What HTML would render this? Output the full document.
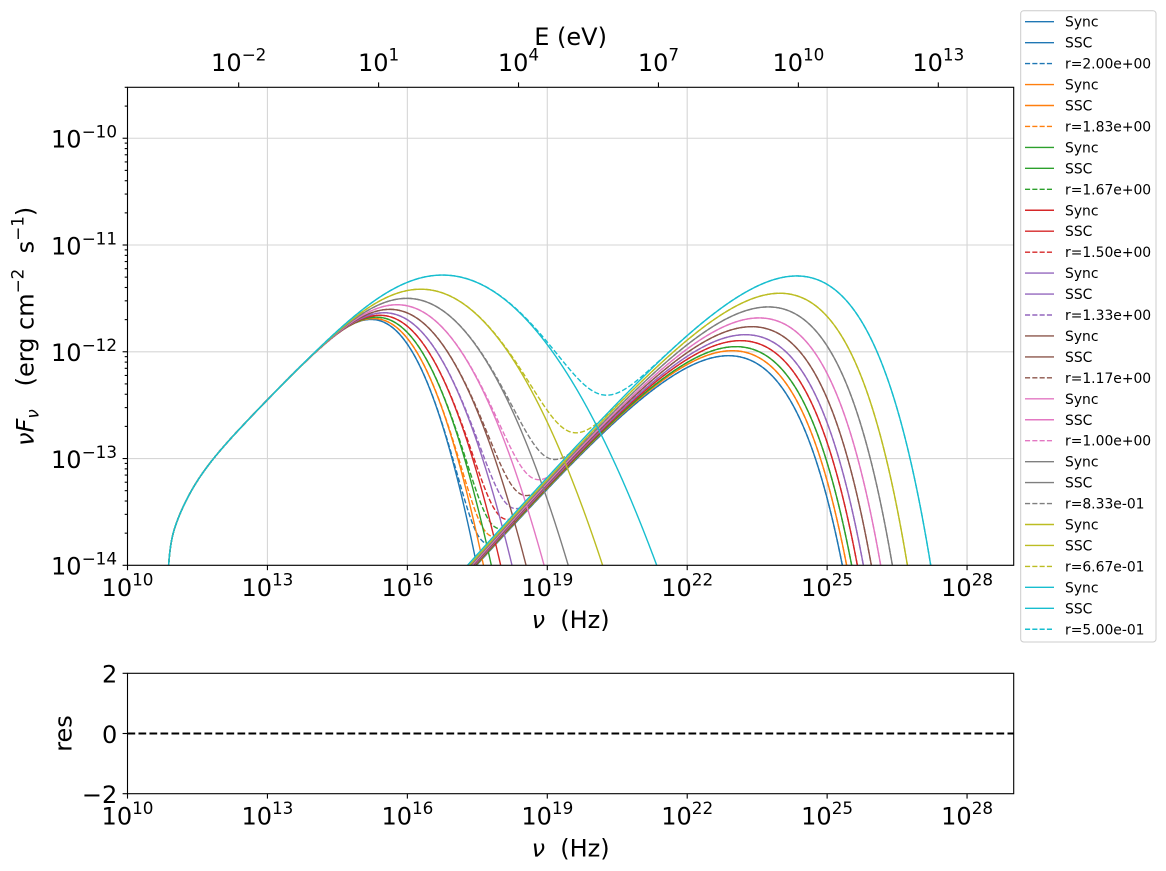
<!DOCTYPE html>
<html>
<head>
<meta charset="utf-8">
<style>
html,body{margin:0;padding:0;background:#fff;}
svg{display:block;}
text{font-family:"DejaVu Sans","Liberation Sans",sans-serif;fill:#000;}
</style>
</head>
<body>
<svg id="fig" width="1166" height="871" viewBox="0 0 1166 871" xmlns="http://www.w3.org/2000/svg">
<defs>
<clipPath id="cp"><rect x="127.5" y="87.3" width="886.2" height="478"/></clipPath>
</defs>
<rect x="0" y="0" width="1166" height="871" fill="#fff"/>
<g id="grid" stroke="#d6d6d6" stroke-width="1.1" fill="none"></g>
<g id="curves" clip-path="url(#cp)" fill="none" stroke-width="1.4" stroke-linejoin="round"></g>
<rect x="127.5" y="87.3" width="886.2" height="478" fill="none" stroke="#000" stroke-width="1.1"/>
<rect x="127.5" y="673.3" width="886.2" height="120.4" fill="none" stroke="#000" stroke-width="1.1"/>
<line x1="127.5" y1="733.5" x2="1013.7" y2="733.5" stroke="#000" stroke-width="2.08" stroke-dasharray="7.7 3.3"/>
<g id="ticks" stroke="#000" stroke-width="1.1" fill="none"></g>

<!-- bottom x tick labels (main) -->
<g font-size="24" text-anchor="middle">
<text x="127.5" y="596">10<tspan font-size="16.8" dy="-10.5">10</tspan></text>
<text x="267.4" y="596">10<tspan font-size="16.8" dy="-10.5">13</tspan></text>
<text x="407.4" y="596">10<tspan font-size="16.8" dy="-10.5">16</tspan></text>
<text x="547.3" y="596">10<tspan font-size="16.8" dy="-10.5">19</tspan></text>
<text x="687.2" y="596">10<tspan font-size="16.8" dy="-10.5">22</tspan></text>
<text x="827.1" y="596">10<tspan font-size="16.8" dy="-10.5">25</tspan></text>
<text x="967.1" y="596">10<tspan font-size="16.8" dy="-10.5">28</tspan></text>
</g>
<!-- top tick labels -->
<g font-size="24" text-anchor="middle">
<text x="238.7" y="71">10<tspan font-size="16.8" dy="-10.5">−2</tspan></text>
<text x="378.6" y="71">10<tspan font-size="16.8" dy="-10.5">1</tspan></text>
<text x="518.5" y="71">10<tspan font-size="16.8" dy="-10.5">4</tspan></text>
<text x="658.5" y="71">10<tspan font-size="16.8" dy="-10.5">7</tspan></text>
<text x="798.4" y="71">10<tspan font-size="16.8" dy="-10.5">10</tspan></text>
<text x="938.3" y="71">10<tspan font-size="16.8" dy="-10.5">13</tspan></text>
</g>
<text x="570.6" y="45" font-size="24" text-anchor="middle">E (eV)</text>
<!-- y tick labels main -->
<g font-size="24" text-anchor="end">
<text x="117" y="147.6">10<tspan font-size="16.8" dy="-10">−10</tspan></text>
<text x="117" y="254.4">10<tspan font-size="16.8" dy="-10">−11</tspan></text>
<text x="117" y="361.2">10<tspan font-size="16.8" dy="-10">−12</tspan></text>
<text x="117" y="467.9">10<tspan font-size="16.8" dy="-10">−13</tspan></text>
<text x="117" y="574.7">10<tspan font-size="16.8" dy="-10">−14</tspan></text>
</g>
<text x="570.6" y="628" font-size="24" text-anchor="middle" style="white-space:pre"><tspan font-style="italic">ν</tspan>  (Hz)</text>
<text transform="translate(33.5,326.3) rotate(-90)" font-size="24" text-anchor="middle" style="white-space:pre"><tspan font-style="italic">νF</tspan><tspan font-style="italic" font-size="16.8" dy="5">ν</tspan><tspan dy="-5">   (erg cm</tspan><tspan font-size="16.8" dy="-10">−2</tspan><tspan dy="10">  s</tspan><tspan font-size="16.8" dy="-10">−1</tspan><tspan dy="10">)</tspan></text>

<!-- residual panel labels -->
<g font-size="24" text-anchor="middle">
<text x="127.5" y="824.4">10<tspan font-size="16.8" dy="-10.5">10</tspan></text>
<text x="267.4" y="824.4">10<tspan font-size="16.8" dy="-10.5">13</tspan></text>
<text x="407.4" y="824.4">10<tspan font-size="16.8" dy="-10.5">16</tspan></text>
<text x="547.3" y="824.4">10<tspan font-size="16.8" dy="-10.5">19</tspan></text>
<text x="687.2" y="824.4">10<tspan font-size="16.8" dy="-10.5">22</tspan></text>
<text x="827.1" y="824.4">10<tspan font-size="16.8" dy="-10.5">25</tspan></text>
<text x="967.1" y="824.4">10<tspan font-size="16.8" dy="-10.5">28</tspan></text>
</g>
<g font-size="24" text-anchor="end">
<text x="117.3" y="682.7">2</text>
<text x="117.3" y="742.9">0</text>
<text x="117.3" y="803.1">−2</text>
</g>
<text transform="translate(71.5,733.5) rotate(-90)" font-size="24" text-anchor="middle">res</text>
<text x="570.6" y="856.4" font-size="24" text-anchor="middle" style="white-space:pre"><tspan font-style="italic">ν</tspan>  (Hz)</text>

<!-- legend -->
<rect x="1020.7" y="10.7" width="135.3" height="631.3" rx="3" ry="3" fill="#fff" fill-opacity="0.8" stroke="#cccccc" stroke-width="1"/>
<g id="leglines" fill="none" stroke-width="1.4"></g>
<g font-size="13.9">
<text x="1065" y="26.7">Sync</text>
<text x="1065" y="47.65">SSC</text>
<text x="1065" y="68.6">r=2.00e+00</text>
<text x="1065" y="89.55">Sync</text>
<text x="1065" y="110.5">SSC</text>
<text x="1065" y="131.45">r=1.83e+00</text>
<text x="1065" y="152.4">Sync</text>
<text x="1065" y="173.35">SSC</text>
<text x="1065" y="194.3">r=1.67e+00</text>
<text x="1065" y="215.25">Sync</text>
<text x="1065" y="236.2">SSC</text>
<text x="1065" y="257.15">r=1.50e+00</text>
<text x="1065" y="278.1">Sync</text>
<text x="1065" y="299.05">SSC</text>
<text x="1065" y="320">r=1.33e+00</text>
<text x="1065" y="340.95">Sync</text>
<text x="1065" y="361.9">SSC</text>
<text x="1065" y="382.85">r=1.17e+00</text>
<text x="1065" y="403.8">Sync</text>
<text x="1065" y="424.75">SSC</text>
<text x="1065" y="445.7">r=1.00e+00</text>
<text x="1065" y="466.65">Sync</text>
<text x="1065" y="487.6">SSC</text>
<text x="1065" y="508.55">r=8.33e-01</text>
<text x="1065" y="529.5">Sync</text>
<text x="1065" y="550.45">SSC</text>
<text x="1065" y="571.4">r=6.67e-01</text>
<text x="1065" y="592.35">Sync</text>
<text x="1065" y="613.3">SSC</text>
<text x="1065" y="634.25">r=5.00e-01</text>
</g>
</svg>
<script>
(function(){
var NS="http://www.w3.org/2000/svg";
var X0=127.5,X1=1013.7,Y0=87.3,Y1=565.3;
var UMIN=10,UMAX=29,FTOP=Math.log10(3e-10),FBOT=-14;
function px(u){return X0+(u-UMIN)*(X1-X0)/(UMAX-UMIN);}
function py(f){return Y0+(FTOP-f)*(Y1-Y0)/(FTOP-FBOT);}
function el(tag,attrs,parent){var e=document.createElementNS(NS,tag);for(var k in attrs)e.setAttribute(k,attrs[k]);parent.appendChild(e);return e;}
var cols=['#1f77b4','#ff7f0e','#2ca02c','#d62728','#9467bd','#8c564b','#e377c2','#7f7f7f','#bcbd22','#17becf'];
var rs=[2.0,1.8333,1.6667,1.5,1.3333,1.1667,1.0,0.8333,0.6667,0.5];

// grid
var grid=document.getElementById('grid');
var xt=[10,13,16,19,22,25,28];
xt.forEach(function(u){var x=px(u);el('line',{x1:x,y1:Y0,x2:x,y2:Y1},grid);});
[-10,-11,-12,-13,-14].forEach(function(f){var y=py(f);el('line',{x1:X0,y1:y,x2:X1,y2:y},grid);});

// ticks
var tk=document.getElementById('ticks');
xt.forEach(function(u){var x=px(u);
  el('line',{x1:x,y1:Y1,x2:x,y2:Y1+4.9},tk);
  el('line',{x1:x,y1:793.7,x2:x,y2:793.7+4.9},tk);
});
var eoff=14.38346;
for(var j=0;j<6;j++){var u=eoff-2+3*j;var x=px(u);el('line',{x1:x,y1:Y0,x2:x,y2:Y0-4.9},tk);}
[-10,-11,-12,-13,-14].forEach(function(f){var y=py(f);el('line',{x1:X0-4.9,y1:y,x2:X0,y2:y},tk);});
[-14,-13,-12,-11,-10].forEach(function(d){
  for(var m=2;m<=9;m++){var f=d+Math.log10(m);if(f>FTOP+1e-6)continue;var y=py(f);
    el('line',{x1:X0-2.8,y1:y,x2:X0,y2:y},tk);}
});
[673.3,733.5,793.7].forEach(function(y){el('line',{x1:X0-4.9,y1:y,x2:X0,y2:y},tk);});

// models
function softplus(x,w){var z=x/w;if(z>30)return x;return w*Math.log(1+Math.exp(z));}
function syncF(u,r){
  var P=-12.452+0.45*(u-12.987);
  var tau=Math.pow(10,-1.2*(u-11.18));
  var ratio=tau<1e-6?1-tau/2:(1-Math.exp(-tau))/tau;
  var A=Math.log10(ratio);
  var E=-0.2*Math.pow(10,(10.88-u)*10);
  var w=0.7+0.18*(2-r);
  var h=softplus(u-14.83,w);
  return P+A+E-(r/4)*h*h;
}
var Fp=[-12.037,-11.990,-11.952,-11.896,-11.840,-11.765,-11.683,-11.580,-11.452,-11.290];
var Zc=[25.326,25.418,25.526,25.648,25.777,25.948,26.148,26.399,26.721,27.221];
var a=0.49;
var ssc=[];
for(var i=0;i<10;i++){
  var t=(Fp[i]-Fp[0])/(Fp[9]-Fp[0]);
  var us=17.45+(17.273-17.45)*t;
  var C=a*(Zc[i]-us);
  var D=Zc[i]-us-(14+Fp[i])/a;
  var lo=0.3,hi=3.0,k=0.7;
  var g=function(k){return C-(a/k)*Math.exp(k*D-1);};
  if(g(lo)>0&&g(hi)<0){
    for(var it=0;it<60;it++){var mid=(lo+hi)/2;if(g(mid)>0)lo=mid;else hi=mid;}
    k=(lo+hi)/2;
  }
  var up=us+(14+Fp[i]+a/k)/a;
  var uc=up-Math.log(a/k)/k;
  ssc.push({us:us,k:k,uc:uc});
}
function sscF(u,i){var p=ssc[i];return -14+a*(u-p.us)-Math.exp(p.k*(u-p.uc));}
function totF(u,i){var s=syncF(u,rs[i]),c=sscF(u,i);
  var m=Math.max(s,c);return m+Math.log10(Math.pow(10,s-m)+Math.pow(10,c-m));}
function path(fn){
  var d='';
  for(var j=0;j<=1900;j++){var u=10+j*0.01;var f=fn(u);
    if(!isFinite(f)||f<-15)f=-15;if(f>-9)f=-9;
    d+=(j?'L':'M')+px(u).toFixed(2)+' '+py(f).toFixed(2);}
  return d;
}
var cg=document.getElementById('curves');
for(var i2=0;i2<10;i2++){
  (function(i){
    el('path',{d:path(function(u){return syncF(u,rs[i]);}),stroke:cols[i]},cg);
    el('path',{d:path(function(u){return sscF(u,i);}),stroke:cols[i]},cg);
    el('path',{d:path(function(u){return totF(u,i);}),stroke:cols[i],'stroke-dasharray':'5.1 2.2'},cg);
  })(i2);
}
// legend lines
var lg=document.getElementById('leglines');
for(var k2=0;k2<30;k2++){
  var yc=21.7+20.95*k2;var ci=Math.floor(k2/3);
  var at={x1:1025,y1:yc,x2:1054,y2:yc,stroke:cols[ci]};
  if(k2%3==2)at['stroke-dasharray']='5.1 2.2';
  el('line',at,lg);
}
})();
</script>
</body>
</html>
